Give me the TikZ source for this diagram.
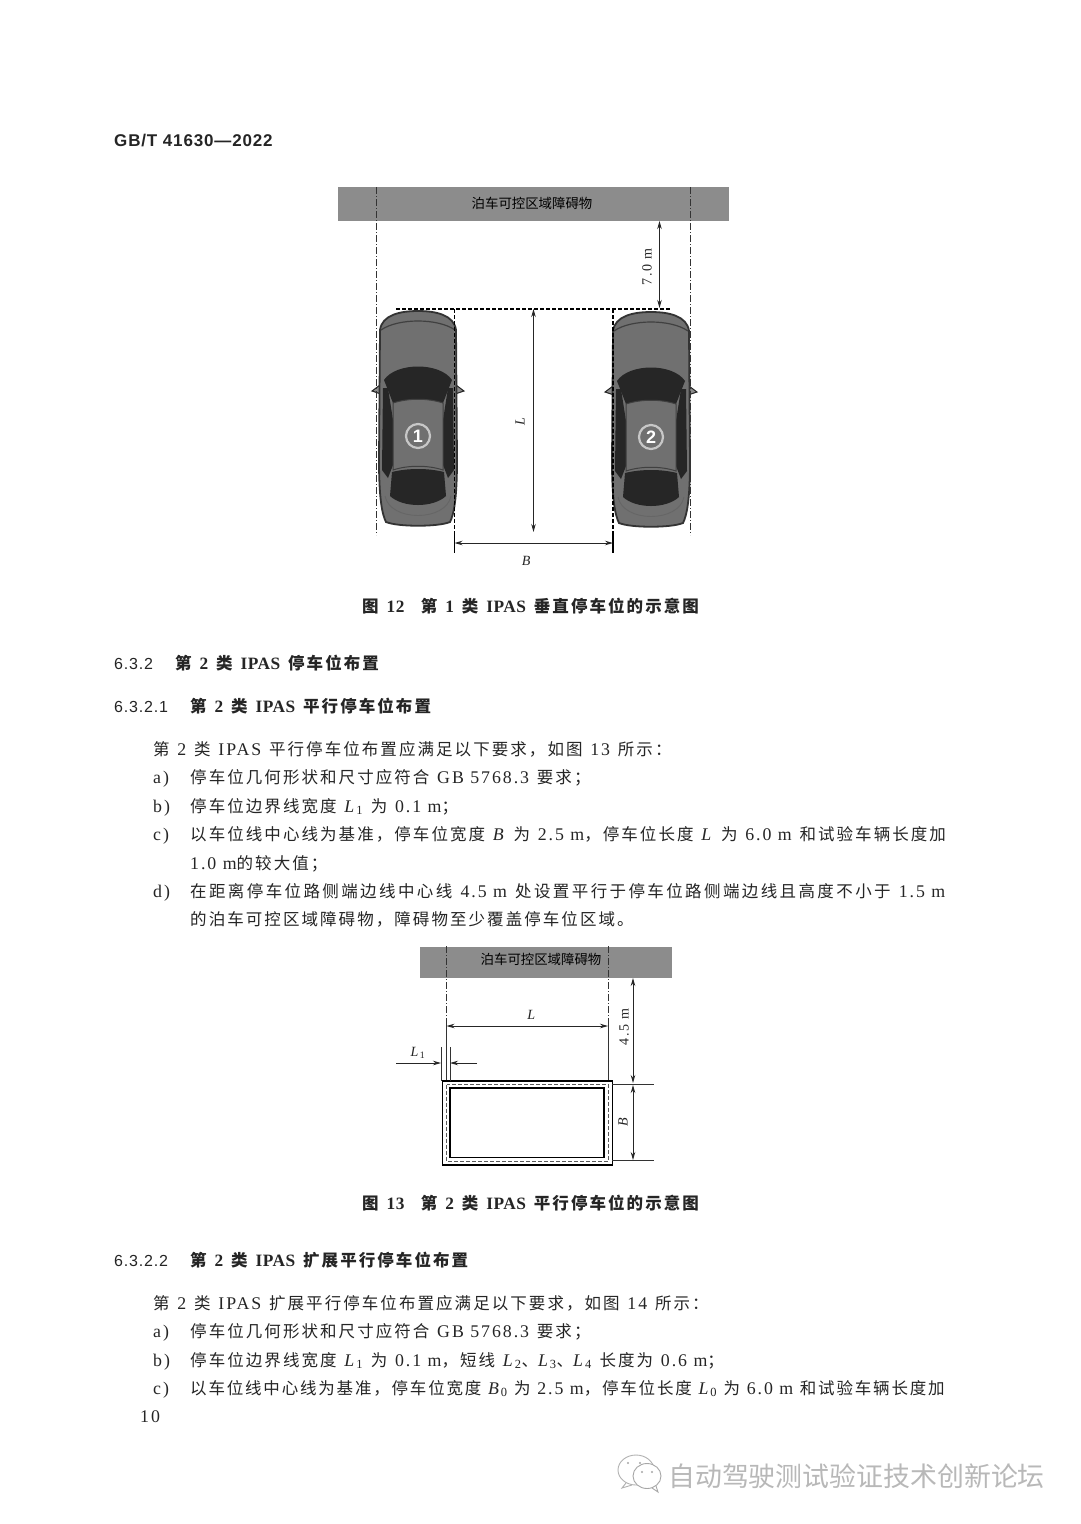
\documentclass[tikz,border=0pt]{standalone}
\usepackage{fontspec}
\usepackage{amsmath}
\setmainfont{Liberation Serif}
\newfontfamily\cjkfont[LetterSpace=12.5,WordSpace=1.35]{Noto Sans CJK SC}
\newfontfamily\cjktight[LetterSpace=11,WordSpace=1.2]{Noto Sans CJK SC}
\newfontfamily\cjkwide[LetterSpace=14.5,WordSpace=1.35]{Noto Sans CJK SC}
\newfontfamily\latfont[LetterSpace=11,Scale=1.08]{Liberation Serif}
\newfontfamily\latboldfont[LetterSpace=3,Scale=1.05]{Liberation Serif Bold}
\newfontfamily\headfont[LetterSpace=5]{Liberation Sans}
\newfontfamily\markfont{Noto Sans CJK SC}
\usetikzlibrary{arrows.meta,calc}
\newcommand{\lat}[1]{{\latfont #1}}
\newcommand{\latb}[1]{{\latboldfont #1}}
\definecolor{inkgray}{HTML}{252525}
\definecolor{bargray}{HTML}{8C8C8C}
\definecolor{cardark}{HTML}{262626}
\definecolor{carbody}{HTML}{707070}
\tikzset{
  bodytext/.style={anchor=base west,inner sep=0pt,text=inkgray,font=\fontsize{16.5}{20}\selectfont\cjkfont},
  headtext/.style={bodytext,font=\fontsize{16.5}{20}\selectfont\cjkfont\bfseries},
  barbox/.style={fill=bargray,draw=none},
  bartext/.style={inner sep=0pt,text=black,font=\fontsize{13.4}{15}\selectfont\markfont},
  dimtext/.style={inner sep=0pt,text=inkgray,font=\fontsize{13}{15}\selectfont\latfont},
  centerline/.style={black!80,line width=1pt,dash pattern=on 7pt off 2pt on 1pt off 2pt},
  slotline/.style={black,line width=1.2pt,dash pattern=on 4pt off 2pt},
  extline/.style={black!80,line width=0.8pt},
  dimline/.style={black!85,line width=0.9pt,{Stealth[length=8pt,width=4.5pt]}-{Stealth[length=8pt,width=4.5pt]}},
  tipline/.style={black!85,line width=0.9pt,-{Stealth[length=8pt,width=4.5pt]}},
  car/.pic={
    % mirrors under the body
    \draw[black!85,line width=1pt,fill=black!45] (-46,81) -- (-34,72) -- (-30,77) -- (-34,85) -- cycle;
    \draw[black!85,line width=1pt,fill=black!45] (46,81) -- (34,72) -- (30,77) -- (34,85) -- cycle;
    % body
    \draw[black!80,line width=1.8pt,fill=carbody] (-38,20) .. controls (-36,5) and (-18,1) .. (0,1)
      .. controls (18,1) and (36,5) .. (38,20) -- (39,150) .. controls (39,188) and (36,204) .. (32,212)
      .. controls (20,217) and (-20,217) .. (-32,212) .. controls (-36,204) and (-39,188) .. (-39,150) -- cycle;
    \draw[black!75,line width=1.2pt] (-37,20) .. controls (-20,8) and (20,8) .. (37,20);
    \draw[black!60,line width=0.9pt] (-33,186) .. controls (-28,212) and (28,212) .. (33,186);
    % glass
    \fill[cardark] (-34,70) .. controls (-22,52) and (22,52) .. (34,70) -- (25,93) .. controls (10,88) and (-10,88) .. (-25,93) -- cycle;
    \fill[cardark] (-26,162) .. controls (-10,158) and (10,158) .. (26,162) -- (28,186) .. controls (15,198) and (-15,198) .. (-28,186) -- cycle;
    \fill[cardark] (-35,78) -- (-30,78) -- (-25,110) -- (-25,155) -- (-30,168) -- (-36,160) -- cycle;
    \fill[cardark] (35,78) -- (30,78) -- (25,110) -- (25,155) -- (30,168) -- (36,160) -- cycle;
    \draw[black!75,line width=1pt] (-25,93) .. controls (-10,88) and (10,88) .. (25,93) -- (25,160) .. controls (10,155) and (-10,155) .. (-25,160) -- cycle;
    % number
    \node[draw=black!22,line width=2.2pt,circle,minimum size=24pt,inner sep=0pt,text=white,font=\fontsize{18}{18}\selectfont\headfont\bfseries] (num) at (0,126) {#1};
  }
}
\begin{document}
\begin{tikzpicture}[x=1pt,y=-1pt]
\useasboundingbox[fill=white] (0,0) rectangle (1080,1524);
% header
\node[bodytext,font=\fontsize{17}{20}\selectfont\headfont\bfseries] (head) at (114,146) {GB/T 41630—2022};
% figure 12
\fill[barbox] (338,187) rectangle (729,221);
\node[bartext] (barA) at (532,203) {泊车可控区域障碍物};
\pic (carA) at (418,310) {car={1}};
\pic (carB) at (651,311) {car={2}};
\coordinate (barAleft) at (376,187);
\coordinate (barAright) at (690,187);
\coordinate (endAleft) at (376,535);
\coordinate (endAright) at (690,535);
\draw[centerline] (barAleft) -- (endAleft);
\draw[centerline] (barAright) -- (endAright);
\coordinate (slotTL) at (454.5,309);
\coordinate (slotTR) at (613,309);
\coordinate (slotBL) at (454.5,534);
\coordinate (slotBR) at (613,534);
\coordinate (extBL) at (454.5,553);
\coordinate (extBR) at (613,553);
\coordinate (topL) at (396,309);
\coordinate (topR) at (670,309);
\draw[slotline] (topL) -- (topR);
\draw[slotline] (slotTL) -- (slotBL);
\draw[slotline] (slotTR) -- (slotBR);
\draw[black,line width=1.2pt] (slotBL) -- (extBL);
\draw[black,line width=1.2pt] (slotBR) -- (extBR);
\coordinate (dimBa) at (454.5,543);
\coordinate (dimBb) at (613,543);
\draw[dimline] (dimBa) -- (dimBb);
\coordinate (dimLa) at (533.5,309);
\coordinate (dimLb) at (533.5,532);
\draw[dimline] (dimLa) -- (dimLb);
\coordinate (dimSa) at (659.5,221);
\coordinate (dimSb) at (659.5,308);
\draw[dimline] (dimSa) -- (dimSb);
\node[dimtext,rotate=90] (lblS) at (647,267) {7.0 m};
\node[dimtext,rotate=90] (lblL) at (520,421) {\textit{L}};
\node[dimtext] (lblB) at (527,561) {\textit{B}};
% caption and text
\node[headtext] (capA) at (362,612) {图 \latb{12}\quad 第 \latb{1} 类 \latb{IPAS} 垂直停车位的示意图};
\node[headtext,font=\fontsize{16}{20}\selectfont\headfont] (secAn) at (114,669) {6.3.2};
\node[headtext] (secA) at (175,669) {第 \latb{2} 类 \latb{IPAS} 停车位布置};
\node[headtext,font=\fontsize{16}{20}\selectfont\headfont] (secBn) at (114,712) {6.3.2.1};
\node[headtext] (secB) at (190,712) {第 \latb{2} 类 \latb{IPAS} 平行停车位布置};
\node[bodytext] (par1) at (153,755) {第 \lat{2} 类 \lat{IPAS} 平行停车位布置应满足以下要求，如图 \lat{13} 所示：};
\node[bodytext] (it1a) at (153,783) {\lat{a)}};
\node[bodytext] (it1) at (190,783) {停车位几何形状和尺寸应符合 \lat{GB 5768.3} 要求；};
\node[bodytext] (it2a) at (153,812) {\lat{b)}};
\node[bodytext] (it2) at (190,812) {停车位边界线宽度 \lat{\textit{L}\textsubscript{1}} 为 \lat{0.1 m}；};
\node[bodytext] (it3a) at (153,840) {\lat{c)}};
\node[bodytext] (it3) at (190,840) {以车位线中心线为基准，停车位宽度 \lat{\textit{B}} 为 \lat{2.5 m}，停车位长度 \lat{\textit{L}} 为 \lat{6.0 m} 和试验车辆长度加};
\node[bodytext] (it3b) at (190,869) {\lat{1.0 m}的较大值；};
\node[bodytext] (it4a) at (153,897) {\lat{d)}};
\node[bodytext,font=\fontsize{16.5}{20}\selectfont\cjkwide] (it4) at (190,897) {在距离停车位路侧端边线中心线 \lat{4.5 m} 处设置平行于停车位路侧端边线且高度不小于 \lat{1.5 m}};
\node[bodytext] (it4b) at (190,925) {的泊车可控区域障碍物，障碍物至少覆盖停车位区域。};
% figure 13
\fill[barbox] (420,947) rectangle (672,978);
\node[bartext] (barB) at (541,959) {泊车可控区域障碍物};
\coordinate (barBleft) at (446,946);
\coordinate (barBright) at (608.5,946);
\coordinate (midBleft) at (446,1020);
\coordinate (midBright) at (608.5,1020);
\coordinate (endBleft) at (446,1082);
\coordinate (endBright) at (608.5,1081);
\draw[centerline] (barBleft) -- (midBleft);
\draw[centerline] (barBright) -- (midBright);
\draw[extline] (midBleft) -- (endBleft);
\draw[extline] (midBright) -- (endBright);
\coordinate (outerTL) at (442.5,1081);
\coordinate (outerBR) at (612.5,1165);
\coordinate (innerTL) at (450,1088);
\coordinate (innerBR) at (604,1157.5);
\coordinate (dashTL) at (446.5,1084.5);
\coordinate (dashBR) at (608.5,1161);
\draw[black,line width=1.6pt] (outerTL) rectangle (outerBR);
\draw[black,line width=1.6pt] (innerTL) rectangle (innerBR);
\draw[black!65,line width=0.9pt,dash pattern=on 4pt off 2pt] (dashTL) rectangle (dashBR);
\coordinate (dimLc) at (446.5,1026);
\coordinate (dimLd) at (608,1026);
\draw[dimline] (dimLc) -- (dimLd);
\coordinate (tickA) at (441,1047);
\coordinate (tickB) at (450,1047);
\coordinate (tickAe) at (441,1081);
\coordinate (tickBe) at (450,1081);
\draw[extline] (tickA) -- (tickAe);
\draw[extline] (tickB) -- (tickBe);
\coordinate (lineA) at (396,1063);
\coordinate (lineAe) at (441,1063);
\coordinate (lineB) at (477,1063);
\coordinate (lineBe) at (450,1063);
\draw[tipline] (lineA) -- (lineAe);
\draw[tipline] (lineB) -- (lineBe);
\coordinate (rightA) at (612,1084);
\coordinate (rightAe) at (654,1084);
\coordinate (rightB) at (612,1160);
\coordinate (rightBe) at (654,1160);
\draw[extline] (rightA) -- (rightAe);
\draw[extline] (rightB) -- (rightBe);
\coordinate (dimHa) at (633,978);
\coordinate (dimHb) at (633,1083);
\coordinate (dimHc) at (633,1085);
\coordinate (dimHd) at (633,1160);
\draw[dimline] (dimHa) -- (dimHb);
\draw[dimline] (dimHc) -- (dimHd);
\node[dimtext,rotate=90] (lblH) at (624,1027) {4.5 m};
\node[dimtext,rotate=90] (lblBb) at (623,1121) {\textit{B}};
\node[dimtext] (lblLb) at (532,1015) {\textit{L}};
\node[dimtext] (lblLa) at (418,1053) {\textit{L}\textsubscript{1}};
% second part of text
\node[headtext] (capB) at (362,1209) {图 \latb{13}\quad 第 \latb{2} 类 \latb{IPAS} 平行停车位的示意图};
\node[headtext,font=\fontsize{16}{20}\selectfont\headfont] (secCn) at (114,1266) {6.3.2.2};
\node[headtext] (secC) at (190,1266) {第 \latb{2} 类 \latb{IPAS} 扩展平行停车位布置};
\node[bodytext] (par2) at (153,1309) {第 \lat{2} 类 \lat{IPAS} 扩展平行停车位布置应满足以下要求，如图 \lat{14} 所示：};
\node[bodytext] (jt1a) at (153,1337) {\lat{a)}};
\node[bodytext] (jt1) at (190,1337) {停车位几何形状和尺寸应符合 \lat{GB 5768.3} 要求；};
\node[bodytext] (jt2a) at (153,1366) {\lat{b)}};
\node[bodytext] (jt2) at (190,1366) {停车位边界线宽度 \lat{\textit{L}\textsubscript{1}} 为 \lat{0.1 m}，短线 \lat{\textit{L}\textsubscript{2}}、\lat{\textit{L}\textsubscript{3}}、\lat{\textit{L}\textsubscript{4}} 长度为 \lat{0.6 m}；};
\node[bodytext] (jt3a) at (153,1394) {\lat{c)}};
\node[bodytext,font=\fontsize{16.5}{20}\selectfont\cjktight] (jt3) at (190,1394) {以车位线中心线为基准，停车位宽度 \lat{\textit{B}\textsubscript{0}} 为 \lat{2.5 m}，停车位长度 \lat{\textit{L}\textsubscript{0}} 为 \lat{6.0 m} 和试验车辆长度加};
\node[bodytext] (pageno) at (140,1422) {\lat{10}};
% mark
\node[inner sep=0pt,anchor=west,text=black!28,font=\fontsize{26.9}{30}\selectfont\markfont] (mark) at (668,1476) {自动驾驶测试验证技术创新论坛};
\draw[black!30,line width=0.9pt,fill=white] (636,1470) ellipse (18 and 15);
\draw[black!30,line width=0.9pt] (626,1483) -- (622,1488) -- (632,1485);
\draw[black!35,line width=0.9pt,fill=white] (647,1476) ellipse (14 and 12.5);
\draw[black!35,line width=0.9pt] (652,1488) -- (658,1492) -- (656,1486);
\fill[black!35] (628,1463) circle (1.2) (640,1463) circle (1.2) (642,1472) circle (1.2) (652,1472) circle (1.2);
\end{tikzpicture}
\end{document}
